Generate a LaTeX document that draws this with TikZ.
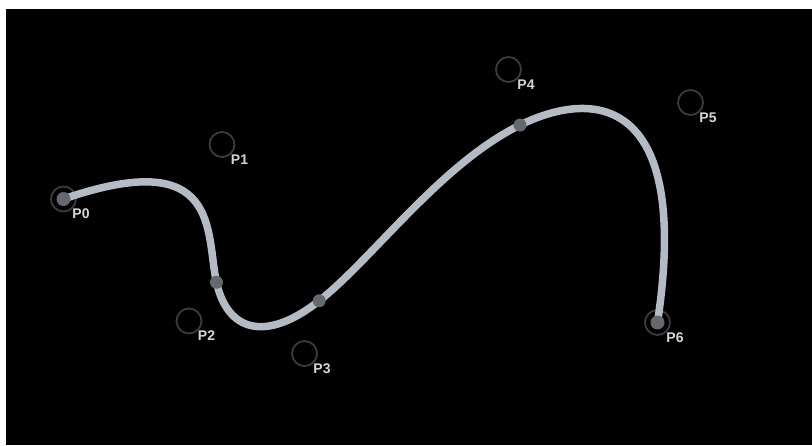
\documentclass[tikz,border=0pt]{standalone}
\usepackage{fontspec}
\setsansfont{Liberation Sans}
\usetikzlibrary{calc}
\definecolor{curvegray}{HTML}{B4BBC5}
\definecolor{ringgray}{HTML}{3C3C3C}
\definecolor{dotgray}{HTML}{65686D}
\definecolor{taggray}{HTML}{D4D6DA}

\begin{document}
\begin{tikzpicture}[x=1pt,y=-1pt,
  ring/.style={draw=ringgray,line width=1.8pt},
  spline/.style={draw=curvegray,line width=7.5pt},
  knotdot/.style={fill=dotgray},
  tag/.style={font=\sffamily\bfseries\fontsize{14}{14}\selectfont,text=taggray,inner sep=0pt},
]
  % frame
  \fill[white] (0,0) rectangle (812,445);
  \fill[black] (6,9) rectangle (812,445);
  \useasboundingbox (0,0) rectangle (812,445);

  % control points
  \foreach \i/\x/\y in {0/63.5/199,1/222/144.5,2/189/321,3/304.5/353.5,4/508.5/69.5,5/690.5/102.5,6/657.5/322.5}
    \coordinate (P\i) at (\x,\y);

  % bezier pieces of the clamped cubic B-spline
  \coordinate (A1) at ($(P1)!0.5!(P2)$);
  \coordinate (B1) at ($(P2)!0.3333!(P3)$);
  \coordinate (K1) at ($(A1)!0.5!(B1)$);
  \coordinate (A2) at ($(P2)!0.6667!(P3)$);
  \coordinate (B2) at ($(P3)!0.3333!(P4)$);
  \coordinate (K2) at ($(A2)!0.5!(B2)$);
  \coordinate (A3) at ($(P3)!0.6667!(P4)$);
  \coordinate (B3) at ($(P4)!0.5!(P5)$);
  \coordinate (K3) at ($(A3)!0.5!(B3)$);

  \foreach \i in {0,...,6}{
    \draw[ring] (P\i) circle[radius=12.5];
    \node[tag] (T\i) at ($(P\i)+(17.5,15)$) {P\i};
  }

  \draw[spline] (P0) .. controls (P1) and (A1) .. (K1)
    .. controls (B1) and (A2) .. (K2)
    .. controls (B2) and (A3) .. (K3)
    .. controls (B3) and (P5) .. (P6);

  \fill[knotdot] (P0) circle[radius=7];
  \fill[knotdot] (P6) circle[radius=7];
  \foreach \k in {K1,K2,K3}
    \fill[knotdot] (\k) circle[radius=6.5];
\end{tikzpicture}
\end{document}
